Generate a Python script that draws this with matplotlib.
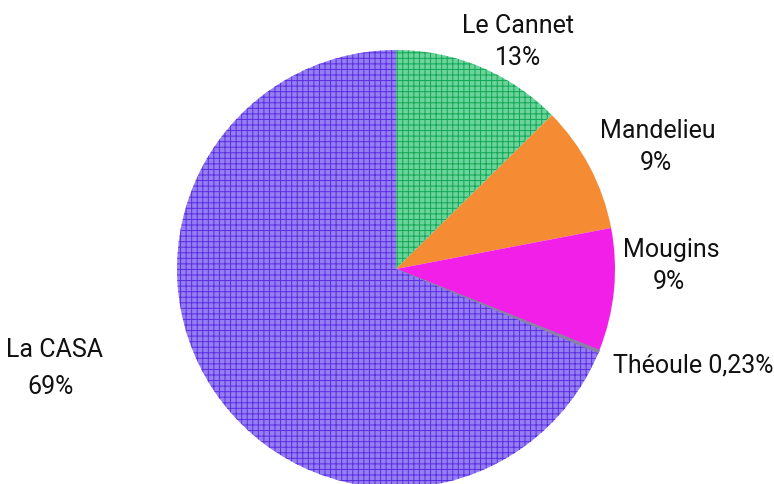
import matplotlib
matplotlib.use("Agg")
import matplotlib.pyplot as plt

# ---- data ----
communes = ["Le Cannet", "Mandelieu", "Mougins", "Théoule", "La CASA"]
shares = [12.6, 9.4, 9.05, 0.23, 68.72]
pct_labels = ["13%", "9%", "9%", "0,23%", "69%"]

# ---- style ----
face_colors = ["#6ad49a", "#f58b33", "#f21fe9", "#8a7fa6", "#947ef1"]
hatch_colors = ["#13a657", "#f58b33", "#f21fe9", "#8a7fa6", "#5a2de2"]
hatches = ["+++", None, None, None, "+++"]

plt.rcParams["font.family"] = ["Roboto", "DejaVu Sans"]
plt.rcParams["hatch.linewidth"] = 0.7

W, H = 774, 484
fig = plt.figure(figsize=(W / 100, H / 100), dpi=100)
cx, cy, R = 396, 269, 219
ax = fig.add_axes([(cx - R) / W, (H - cy - R) / H, 2 * R / W, 2 * R / H])
wedges, _ = ax.pie(shares, startangle=90, counterclock=False, radius=1,
                   colors=face_colors, wedgeprops=dict(linewidth=0))
for w, hc, h in zip(wedges, hatch_colors, hatches):
    w.set_edgecolor(hc)
    w.set_linewidth(0)
    if h:
        w.set_hatch(h)
wedges[3].set_linewidth(0.8)
ax.set_xlim(-1, 1)
ax.set_ylim(-1, 1)
ax.set_aspect("equal")
ax.axis("off")

fs = 18
def px_text(x, y, s, ha="center"):
    fig.text(x / W, 1 - y / H, s, ha=ha, va="baseline", fontsize=fs, color="#111111")

# label layout (pixel anchors: x, baseline of name, baseline of pct)
px_text(518, 33, communes[0]); px_text(518, 65, pct_labels[0])
px_text(658, 138, communes[1]); px_text(656, 170, pct_labels[1])
px_text(671, 257, communes[2]); px_text(669, 289, pct_labels[2])
px_text(613, 373, communes[3] + " " + pct_labels[3], ha="left")
px_text(54, 357, communes[4]); px_text(51, 394, pct_labels[4])

fig.savefig("out.png", dpi=100)
